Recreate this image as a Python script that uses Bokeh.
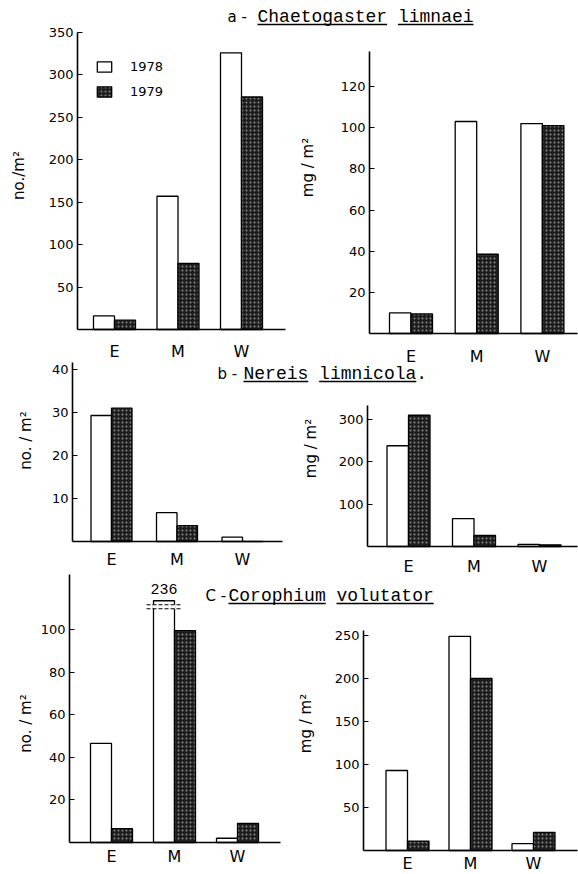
import numpy as np
from bokeh.plotting import figure
from bokeh.models import (Range1d, LinearAxis, FixedTicker, Legend, LegendItem,
                          Label, ColumnDataSource)
from bokeh.embed import file_html
from bokeh.resources import INLINE

W, H = 578, 874

# ---------------- data ----------------
sites = ["E", "M", "W"]
years = ["1978", "1979"]

# a - Chaetogaster limnaei
a_num_1978 = [16, 157, 326]
a_num_1979 = [11, 78, 274]
a_mass_1978 = [10, 103, 102]
a_mass_1979 = [9.5, 38.5, 101]
# b - Nereis limnicola
b_num_1978 = [29.3, 6.7, 1]
b_num_1979 = [31, 3.7, 0]
b_mass_1978 = [238, 66, 5]
b_mass_1979 = [310, 26, 4]
# c - Corophium volutator
c_num_1978 = [46.5, 236, 2]
c_num_1979 = [6.5, 99.5, 9]
c_mass_1978 = [93, 249, 8]
c_mass_1979 = [11, 200, 21]

a_num_ticks = [50, 100, 150, 200, 250, 300, 350]
a_mass_ticks = [20, 40, 60, 80, 100, 120]
b_num_ticks = [10, 20, 30, 40]
b_mass_ticks = [100, 200, 300]
c_num_ticks = [20, 40, 60, 80, 100]
c_mass_ticks = [50, 100, 150, 200, 250]

# ---------------- layout (pixels) ----------------
panels = {
    "al": dict(ax=77, c0=114, gap=63.5, y0=329, ry=32, rv=350, ytop=350, xend=285, bw=21, so=12),
    "ar": dict(ax=369, c0=410.5, gap=65.7, y0=333, ry=86, rv=120, ytop=137, xend=577, bw=21.5, so=13),
    "bl": dict(ax=72, c0=111, gap=65.5, y0=541, ry=369, rv=40, ytop=41.6, xend=282, bw=20.5, so=8),
    "br": dict(ax=367, c0=408, gap=65.5, y0=546, ry=419, rv=300, ytop=333, xend=577, bw=21.5, so=10),
    "cl": dict(ax=69, c0=111, gap=63, y0=842, ry=629, rv=100, ytop=126, xend=280, bw=21, so=4),
    "cr": dict(ax=363, c0=407, gap=63, y0=850, ry=635, rv=250, ytop=256, xend=577, bw=21.5, so=3),
}
c_num_cap = 113.5   # displayed height of the broken bar (value 236)

p = figure(width=W, height=H, x_range=Range1d(0, W), y_range=Range1d(0, H),
           x_axis_type=None, y_axis_type=None, toolbar_location=None,
           output_backend="svg", min_border=0, outline_line_color=None,
           background_fill_color="white", border_fill_color="white")

FONT = "DejaVu Sans"
MONO = "Liberation Mono"


def add_panel(key, v78, v79, ticks, cap=None):
    P = panels[key]
    s = (P["y0"] - P["ry"]) / P["rv"]
    p.extra_x_ranges[key] = Range1d((0 - P["c0"]) / P["gap"], (W - P["c0"]) / P["gap"])
    yend = P["y0"] / s
    p.extra_y_ranges[key] = Range1d(yend - H / s, yend)
    bw = P["bw"] / P["gap"]
    idx = np.arange(len(sites))
    shown78 = [min(v, cap) if cap else v for v in v78]
    s78 = ColumnDataSource(dict(x=idx - bw / 2, top=shown78, site=sites))
    s79 = ColumnDataSource(dict(x=idx + bw / 2, top=v79, site=sites))
    r78 = p.vbar(x="x", top="top", width=bw, bottom=0, source=s78,
                 fill_color="white", line_color="black", line_width=1.3,
                 x_range_name=key, y_range_name=key)
    r79 = p.vbar(x="x", top="top", width=bw, bottom=0, source=s79,
                 fill_color="#1e1e1e", line_color="black", line_width=1.3,
                 hatch_pattern="dot", hatch_color="#a8a8a8", hatch_scale=4,
                 hatch_weight=1.2, hatch_alpha=0.75,
                 x_range_name=key, y_range_name=key)
    xax_loc = (P["ax"] - P["c0"]) / P["gap"]
    yax = LinearAxis(x_range_name=key, y_range_name=key, fixed_location=xax_loc,
                     bounds=(0, P["ytop"]), ticker=FixedTicker(ticks=ticks),
                     axis_line_width=1.6, axis_line_color="black",
                     major_tick_in=5, major_tick_out=0, minor_tick_line_color=None,
                     major_tick_line_width=1.2,
                     major_label_standoff=4, major_label_text_font=FONT,
                     major_label_text_font_size="13px", major_label_text_color="black",
                     major_label_text_baseline="bottom")
    p.add_layout(yax, "left")
    xax = LinearAxis(x_range_name=key, y_range_name=key, fixed_location=0,
                     bounds=(xax_loc, (P["xend"] - P["c0"]) / P["gap"]),
                     ticker=FixedTicker(ticks=list(idx)),
                     major_label_overrides={i: s_ for i, s_ in enumerate(sites)},
                     axis_line_width=1.6, axis_line_color="black",
                     major_tick_in=0, major_tick_out=0, minor_tick_line_color=None,
                     major_label_standoff=P["so"], major_label_text_font=FONT,
                     major_label_text_font_size="16px", major_label_text_color="black")
    p.add_layout(xax, "below")
    return r78, r79, bw


r78a, r79a, _ = add_panel("al", a_num_1978, a_num_1979, a_num_ticks)
add_panel("ar", a_mass_1978, a_mass_1979, a_mass_ticks)
add_panel("bl", b_num_1978, b_num_1979, b_num_ticks)
add_panel("br", b_mass_1978, b_mass_1979, b_mass_ticks)
_, _, bwc = add_panel("cl", c_num_1978, c_num_1979, c_num_ticks, cap=c_num_cap)
add_panel("cr", c_mass_1978, c_mass_1979, c_mass_ticks)

# broken bar (M, 1978, numbers, panel c)
sc = (panels["cl"]["y0"] - panels["cl"]["ry"]) / panels["cl"]["rv"]
b_hi = c_num_cap - 4 / sc
b_lo = c_num_cap - 8 / sc
ext = 7 / panels["cl"]["gap"]
xm = 1 - bwc / 2
p.vbar(x=[xm], bottom=[b_lo], top=[b_hi], width=bwc + 0.02, fill_color="white",
       line_color=None, x_range_name="cl", y_range_name="cl")
p.segment(x0=[xm - bwc / 2 - ext] * 2, x1=[xm + bwc / 2 + ext] * 2,
          y0=[b_hi, b_lo], y1=[b_hi, b_lo], line_color="black", line_width=1.1,
          line_dash="4 2", x_range_name="cl", y_range_name="cl")
p.add_layout(Label(x=xm, y=c_num_cap, text=str(c_num_1978[1]), x_range_name="cl",
                   y_range_name="cl", text_align="center", text_baseline="bottom",
                   y_offset=7, text_font=MONO, text_font_size="15px", text_color="black"))

# y axis titles (rotated)
for x, y, t in [(18, 175, "no./m²"), (307, 167, "mg / m²"),
                (25, 440, "no. / m²"), (310, 448, "mg / m²"),
                (25, 723, "no. / m²"), (305, 723, "mg / m²")]:
    p.add_layout(Label(x=x, y=H - y, text=t, angle=np.pi / 2, text_align="center",
                       text_baseline="middle", text_font=FONT, text_font_size="15px",
                       text_color="black"))

# panel titles
CW = 10.8  # char advance of 18px mono
titles = [("a -", "Chaetogaster limnaei", 227, 257, 16),
          ("b -", "Nereis limnicola.", 217, 243, 373),
          ("C -", "Corophium volutator", 205, 228, 595)]
ux0, ux1, uy = [], [], []
for pre, name, xp, xn, yc in titles:
    p.add_layout(Label(x=xp, y=H - yc, text=pre, text_align="left", text_baseline="middle",
                       text_font=FONT, text_font_size="15px", text_color="black"))
    p.add_layout(Label(x=xn, y=H - yc, text=name, text_align="left", text_baseline="middle",
                       text_font=MONO, text_font_size="18px", text_color="black"))
    pos = 0
    for w in name.split(" "):
        n = len(w.rstrip("."))
        ux0.append(xn + pos * CW)
        ux1.append(xn + (pos + n) * CW)
        uy.append(H - yc - 8)
        pos += len(w) + 1
p.segment(x0=ux0, x1=ux1, y0=uy, y1=uy, line_color="black", line_width=1.4)

# legend
legend = Legend(items=[LegendItem(label=years[0], renderers=[r78a]),
                       LegendItem(label=years[1], renderers=[r79a])],
                location=(95, H - 99), orientation="vertical",
                glyph_width=18, glyph_height=13, label_height=13, label_width=30,
                spacing=10, padding=0, margin=0, label_standoff=17,
                label_text_font=FONT, label_text_font_size="13px",
                label_text_color="black",
                border_line_color=None, background_fill_alpha=0)
p.add_layout(legend)

open("out.html", "w").write(file_html(p, INLINE))
